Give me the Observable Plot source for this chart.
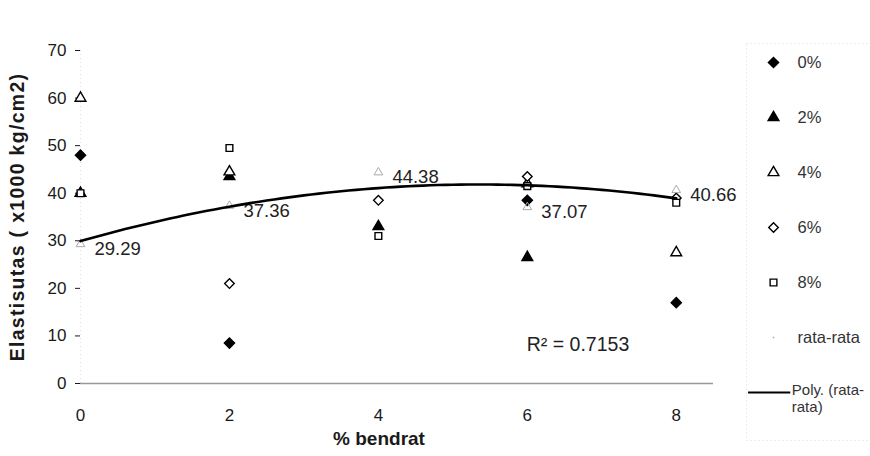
<!DOCTYPE html>
<html><head><meta charset="utf-8">
<script src="https://cdn.jsdelivr.net/npm/d3@7"></script>
<script src="https://cdn.jsdelivr.net/npm/@observablehq/plot@0.6"></script>
<style>
body{margin:0;background:#fff;}
#wrap{position:relative;width:870px;height:456px;font-family:"Liberation Sans",Arial,sans-serif;}
#chart,#legend{position:absolute;top:0;}
#chart{left:0} #legend{left:740px}
g[aria-label="y-axis label"] text{font-weight:bold;font-size:19.5px;letter-spacing:1.3px;}
</style></head>
<body><div id="wrap"><div id="chart"></div><div id="legend"></div></div>
<script>
// ---- data ----
const bendrat = [0, 2, 4, 6, 8];
const seriesNames = ["0%", "2%", "4%", "6%", "8%"];
const p0 = [48, 8.5, null, 38.5, 17];
const p2 = [40, 43.5, 33, 26.5, null];
const p4 = [60, 44.5, null, 42, 27.5];
const p6 = [null, 21, 38.5, 43.5, 39];
const p8 = [40, 49.5, 31, 41.5, 38];
const rataRata = [29.29, 37.36, 44.38, 37.07, 40.66];
const r2Label = "R\u00b2 = 0.7153";
const xTitle = "% bendrat";
const yTitle = "Elastisutas ( x1000 kg/cm2)";
const yTicks = [0, 10, 20, 30, 40, 50, 60, 70];
const xTicks = [0, 2, 4, 6, 8];
const legendItems = ["0%", "2%", "4%", "6%", "8%", "rata-rata", "Poly. (rata-rata)"];

const seriesValues = [p0, p2, p4, p6, p8];
const styles = {
  "0%": {symbol: "diamond2", fill: "black", r: 4.6},
  "2%": {symbol: "triangle", fill: "black", r: 4},
  "4%": {symbol: "triangle", fill: "white", r: 4},
  "6%": {symbol: "diamond2", fill: "white", r: 4.3},
  "8%": {symbol: "square2", fill: "white", r: 4.3}
};

const points = [];
seriesNames.forEach((s, i) => seriesValues[i].forEach((v, j) => {
  if (v != null) points.push({series: s, x: bendrat[j], y: v});
}));
const avg = bendrat.map((x, i) => ({x, y: rataRata[i], label: rataRata[i].toFixed(2)}));

// quadratic least-squares trend of rata-rata (Excel "Poly." trendline, order 2)
function quadFit(xs, ys) {
  const S = k => d3.sum(xs, x => x ** k);
  const T = k => d3.sum(xs, (x, i) => x ** k * ys[i]);
  const A = [[S(0), S(1), S(2)], [S(1), S(2), S(3)], [S(2), S(3), S(4)]];
  const B = [T(0), T(1), T(2)];
  const det = m => m[0][0]*(m[1][1]*m[2][2]-m[1][2]*m[2][1]) - m[0][1]*(m[1][0]*m[2][2]-m[1][2]*m[2][0]) + m[0][2]*(m[1][0]*m[2][1]-m[1][1]*m[2][0]);
  const D = det(A);
  return [0, 1, 2].map(c => det(A.map((row, r) => row.map((v, k) => k === c ? B[r] : v))) / D);
}
const [c0, c1, c2] = quadFit(bendrat, rataRata);
const trend = d3.range(0, 8.0001, 0.1).map(x => ({x, y: c0 + c1 * x + c2 * x * x}));

const font = {fontFamily: "'Liberation Sans', Arial, sans-serif", fontSize: "17px", color: "#1a1a1a"};

const chart = Plot.plot({
  width: 740, height: 456,
  marginTop: 50, marginBottom: 73, marginLeft: 80, marginRight: 27,
  style: font,
  x: {domain: [0, 8.5], ticks: xTicks, tickSize: 0, tickPadding: 25, label: null},
  y: {domain: [0, 70], ticks: yTicks, tickSize: 5, tickPadding: 9,
      label: yTitle, labelAnchor: "center", labelOffset: 70, labelArrow: "none"},
  marks: [
    Plot.ruleX([0], {stroke: "#ddd", strokeDasharray: "1,3"}),
    Plot.ruleY([0], {stroke: "#999", strokeWidth: 1.3}),
    ...seriesNames.map(s => Plot.dot(points.filter(d => d.series === s), {
      x: "x", y: "y", symbol: styles[s].symbol, r: styles[s].r,
      fill: styles[s].fill, stroke: "black", strokeWidth: 1.4
    })),
    Plot.dot(avg, {x: "x", y: "y", symbol: "triangle", r: 3.2, fill: "none", stroke: "#aaa", strokeWidth: 1}),
    Plot.text(avg, {x: "x", y: "y", text: "label", textAnchor: "start", dx: 14, dy: 5, fontSize: 18.5, fill: "#222"}),
    Plot.line(trend, {x: "x", y: "y", stroke: "black", strokeWidth: 2.6, curve: "linear"}),
    Plot.text([r2Label], {text: d => d, frameAnchor: "bottom", dx: 181, dy: -33, fontSize: 19.5, fill: "#222"}),
    Plot.text([xTitle], {text: d => d, frameAnchor: "bottom", dx: -18, dy: 61, fontSize: 19, fontWeight: "bold", fill: "#1a1a1a"})
  ]
});
document.getElementById("chart").appendChild(chart);

const legend = Plot.plot({
  width: 130, height: 456,
  marginTop: 43, marginBottom: 16, marginLeft: 6, marginRight: 0,
  style: font,
  x: {axis: null, domain: [0, 1], range: [33, 57]},
  y: {axis: null, type: "point", padding: 0, domain: legendItems, range: [60, 393]},
  marks: [
    Plot.frame({stroke: "#ddd", strokeDasharray: "1,3"}),
    ...seriesNames.map(s => Plot.dot([s], {
      x: () => 0, y: d => d, symbol: styles[s].symbol, r: styles[s].r,
      fill: styles[s].fill, stroke: "black", strokeWidth: 1.4
    })),
    Plot.dot(["rata-rata"], {x: () => 0, y: d => d, r: 1, fill: "#bbb", stroke: "none"}),
    Plot.ruleY(["Poly. (rata-rata)"], {y: d => d, x1: -1.04, x2: 0.72, stroke: "black", strokeWidth: 2.2}),
    Plot.text(legendItems.slice(0, 6), {x: () => 1, y: d => d, text: d => d, textAnchor: "start", fontSize: 16.5, fill: "#333"}),
    Plot.text(["Poly. (rata-rata)"], {x: () => 0.72, y: d => d, text: () => "Poly. (rata-\nrata)", textAnchor: "start", lineAnchor: "top", dy: -9, dx: 1, lineHeight: 1.1, fontSize: 15, fill: "#333"})
  ]
});
document.getElementById("legend").appendChild(legend);
</script>
</body></html>
